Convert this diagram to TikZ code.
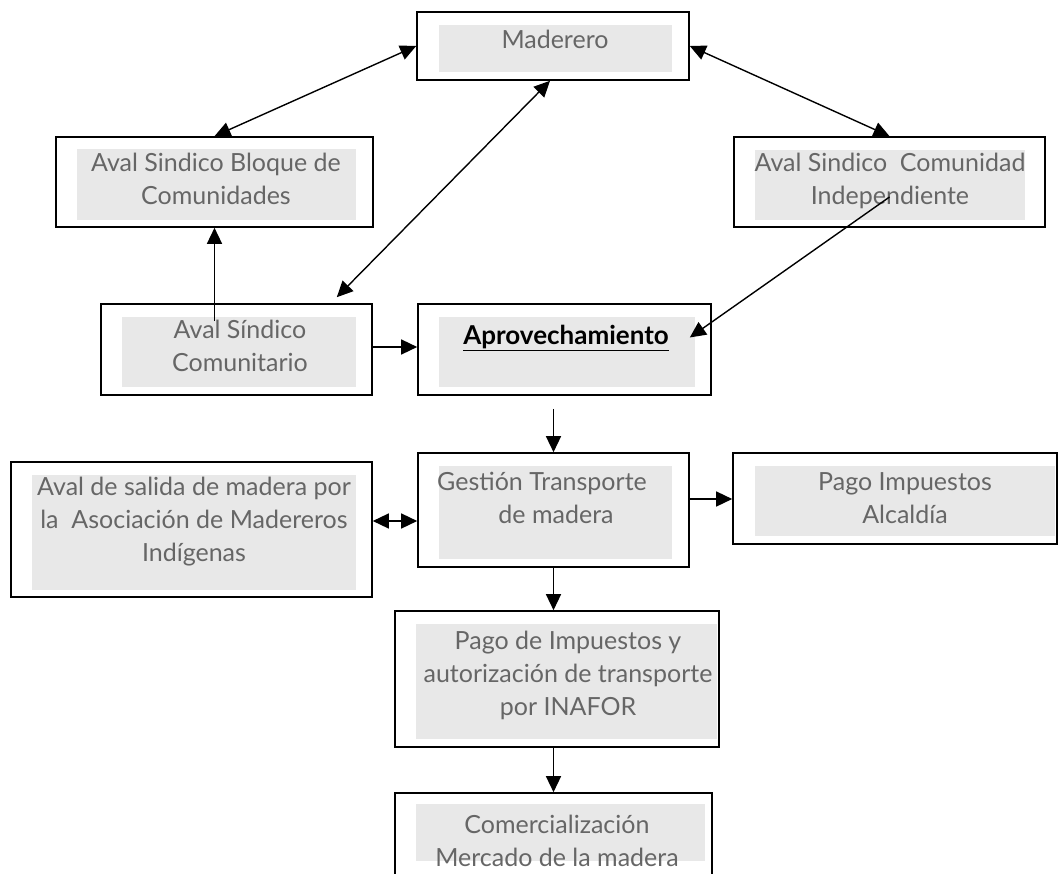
\documentclass[tikz,border=0pt]{standalone}
\usepackage{fontspec}
\setmainfont{Lato}
\usetikzlibrary{arrows.meta,calc}
\definecolor{boxgray}{HTML}{E8E8E8}
\definecolor{txtgray}{HTML}{666666}
\begin{document}
\begin{tikzpicture}[x=1pt,y=-1pt,
  frame/.style={draw=black,line width=1.6pt,rectangle,inner sep=0pt},
  shade/.style={fill=boxgray,rectangle,inner sep=0pt},
  lbl/.style={text=txtgray,align=center,inner sep=0pt,anchor=north,font=\fontsize{25}{33}\selectfont},
  conn/.style={line width=1.4pt,-{Triangle[length=16pt,width=15pt]}},
  dconn/.style={line width=1.4pt,{Triangle[length=16pt,width=15pt]}-{Triangle[length=16pt,width=15pt]}}]
\useasboundingbox (0,0) rectangle (1059,874);
% frames: center, width, height
\node[frame,minimum width=272pt,minimum height=68pt] (mad) at (553,46) {};
\node[frame,minimum width=317pt,minimum height=90pt] (bloq) at (214.5,182) {};
\node[frame,minimum width=311pt,minimum height=90pt] (ind) at (889.5,182) {};
\node[frame,minimum width=271pt,minimum height=91pt] (com) at (236.5,349.5) {};
\node[frame,minimum width=293pt,minimum height=91pt] (apr) at (564.5,349.5) {};
\node[frame,minimum width=361pt,minimum height=135pt] (sal) at (191.5,529.5) {};
\node[frame,minimum width=271pt,minimum height=114pt] (ges) at (553.5,510) {};
\node[frame,minimum width=324pt,minimum height=91pt] (alc) at (895,498.5) {};
\node[frame,minimum width=324pt,minimum height=136pt] (ina) at (557,679) {};
\node[frame,minimum width=317pt,minimum height=100pt] (mer) at (553.5,843) {};
% gray inner areas
\node[shade,minimum width=233pt,minimum height=47pt] (gmad) at (555.5,48.5) {};
\node[shade,minimum width=279pt,minimum height=71pt] (gbloq) at (216.5,184.5) {};
\node[shade,minimum width=270pt,minimum height=70pt] (gind) at (890,185) {};
\node[shade,minimum width=234pt,minimum height=70pt] (gcom) at (239,352) {};
\node[shade,minimum width=256pt,minimum height=70pt] (gapr) at (567,352) {};
\node[shade,minimum width=324pt,minimum height=115pt] (gsal) at (194,532.5) {};
\node[shade,minimum width=233pt,minimum height=93pt] (gges) at (555.5,512.5) {};
\node[shade,minimum width=300pt,minimum height=70pt] (galc) at (905,501) {};
\node[shade,minimum width=301pt,minimum height=115pt] (gina) at (566.5,681.5) {};
\node[shade,minimum width=289pt,minimum height=57pt] (gmer) at (560.5,832.5) {};
% texts
\node[lbl] (tmad) at (555,25) {\strut Maderero};
\node[lbl] (tbloq) at (216,148) {\strut Aval Sindico Bloque de\\Comunidades};
\node[lbl] (tind) at (890,148) {\strut Aval Sindico\ \ Comunidad\\Independiente};
\node[lbl] (tcom) at (240,315) {\strut Aval Síndico\\Comunitario};
\node[lbl,text=black,font=\fontsize{26}{33}\selectfont] (tapr) at (566,321) {\strut\textbf{\underline{Aprovechamiento}}};
\node[lbl] (tges) at (556,467) {\strut Gestión Transporte\hspace*{28pt}\\de madera};
\node[lbl] (talc) at (905,467) {\strut Pago Impuestos\\Alcaldía};
\node[lbl] (tsal) at (194,472) {\strut Aval de salida de madera por\\la\ \ Asociación de Madereros\\Indígenas};
\node[lbl] (tina) at (568,626) {\strut Pago de Impuestos y\\autorización de transporte\\por INAFOR};
\node[lbl] (tmer) at (557,810) {\strut Comercialización\\Mercado de la madera};
% connectors
\draw[dconn] (mad.west) -- (bloq.north);
\draw[dconn] (mad.east) -- (ind.north);
\draw[dconn] ([xshift=-3pt]mad.south) -- ([xshift=-36pt,yshift=6pt]com.north east);
\draw[conn] ([yshift=-18pt]bloq.south |- com.north) -- (bloq.south);
\draw[conn] ([yshift=-15pt]ind.center) -- ([xshift=-22pt,yshift=12pt]apr.east);
\draw[conn] (com.east |- 0,347) -- (apr.west |- 0,347);
\draw[conn] ([yshift=-13pt]apr.south -| ges.north) -- (ges.north);
\draw[dconn] (sal.east |- 0,521) -- (ges.west |- 0,521);
\draw[conn] (ges.east |- 0,499) -- (alc.west |- 0,499);
\draw[conn] (ges.south) -- (ina.north -| ges.south);
\draw[conn] (ina.south -| ges.south) -- (mer.north -| ges.south);
\end{tikzpicture}
\end{document}
